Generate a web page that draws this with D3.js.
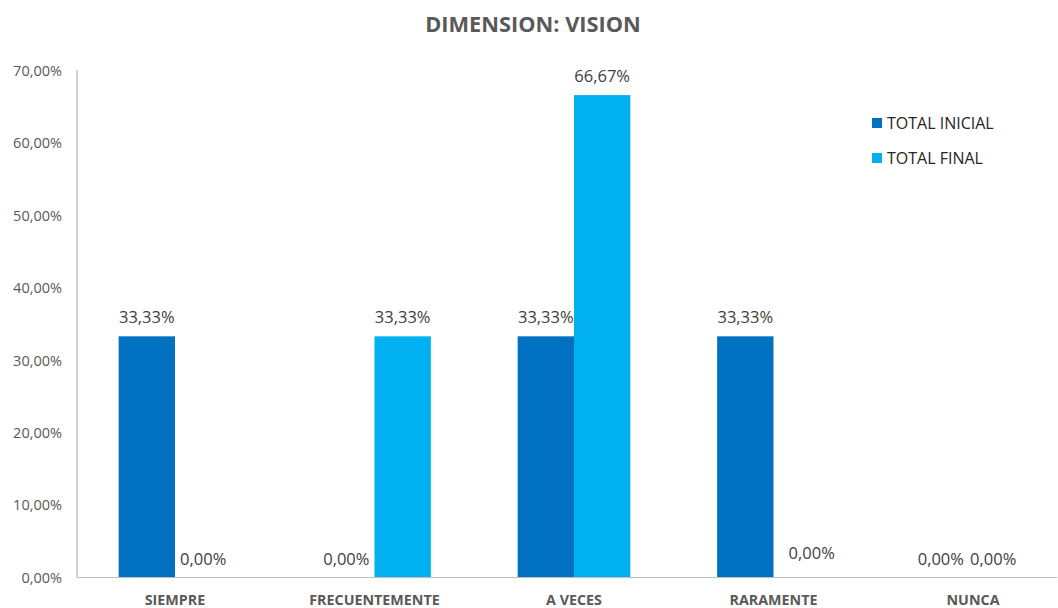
<!DOCTYPE html>
<html>
<head>
<meta charset="utf-8">
<script src="https://cdn.jsdelivr.net/npm/d3@7"></script>
<style>
  html, body { margin: 0; padding: 0; background: #fff; }
  svg { display: block; font-family: "Open Sans", "Liberation Sans", sans-serif; }
</style>
</head>
<body>
<svg id="chart" width="1058" height="608"></svg>
<script>
// Data
const categories = ["SIEMPRE", "FRECUENTEMENTE", "A VECES", "RARAMENTE", "NUNCA"];
const seriesNames = ["TOTAL INICIAL", "TOTAL FINAL"];
const totalInicial = [33.33, 0.00, 33.33, 33.33, 0.00];
const totalFinal = [0.00, 33.33, 66.67, 0.00, 0.00];
const yTicks = [0, 10, 20, 30, 40, 50, 60, 70];

const colors = ["#0070C0", "#00B0F0"];
const fmt = v => d3.format(".2f")(v).replace(".", ",") + "%";

const svg = d3.select("#chart");
const plot = { left: 77, right: 1057, top: 71, bottom: 577.5 };

const x0 = d3.scaleBand().domain(categories).range([75.25, 1072.75]).paddingInner(0).paddingOuter(0);
const x1 = d3.scaleBand().domain(seriesNames).range([0, x0.bandwidth()]).paddingInner(0).paddingOuter(0.77);
const y = d3.scaleLinear().domain([0, 70]).range([plot.bottom, plot.top]);

// Title
svg.append("text")
  .attr("x", 533).attr("y", 32)
  .attr("text-anchor", "middle")
  .attr("font-size", 21.8).attr("font-weight", 700)
  .attr("fill", "#595959")
  .text("DIMENSION: VISION");

// Y axis tick labels
const yAxis = d3.axisLeft(y).tickValues(yTicks).tickSize(0).tickPadding(15).tickFormat(fmt);
const gy = svg.append("g").attr("transform", `translate(${plot.left},0)`).call(yAxis);
gy.select(".domain").remove();
gy.selectAll("text").attr("font-size", 14.5).attr("fill", "#595959")
  .attr("font-family", "Open Sans, sans-serif");

// Bars
const rows = categories.map((c, i) => ({ cat: c, values: [totalInicial[i], totalFinal[i]] }));
const groups = svg.append("g").selectAll("g").data(rows).join("g")
  .attr("transform", d => `translate(${x0(d.cat)},0)`);

groups.selectAll("rect").data(d => d.values.map((v, j) => ({ s: seriesNames[j], v, j })))
  .join("rect")
  .attr("x", d => x1(d.s))
  .attr("y", d => y(d.v))
  .attr("width", x1.bandwidth())
  .attr("height", d => y(0) - y(d.v))
  .attr("fill", d => colors[d.j]);

// Axis lines
svg.append("line").attr("x1", plot.left).attr("x2", plot.left)
  .attr("y1", plot.top - 1).attr("y2", plot.bottom).attr("stroke", "#A6A6A6").attr("stroke-width", 1);
svg.append("line").attr("x1", plot.left).attr("x2", plot.right)
  .attr("y1", plot.bottom).attr("y2", plot.bottom).attr("stroke", "#BFBFBF").attr("stroke-width", 1);

// Value labels; a few zero labels are nudged to avoid overlapping
const nudge = { "RARAMENTE|1": [10, -6], "NUNCA|0": [-4, 0], "NUNCA|1": [-8, 0] };
groups.selectAll("text.val").data(d => d.values.map((v, j) => ({ cat: d.cat, s: seriesNames[j], v, j })))
  .join("text")
  .attr("class", "val")
  .attr("x", d => x1(d.s) + x1.bandwidth() / 2 + ((nudge[d.cat + "|" + d.j] || [0, 0])[0]))
  .attr("y", d => y(d.v) - 13 + ((nudge[d.cat + "|" + d.j] || [0, 0])[1]))
  .attr("text-anchor", "middle")
  .attr("font-size", 16.5)
  .attr("fill", "#404040")
  .text(d => fmt(d.v));

// Category labels
const xAxis = d3.axisBottom(x0).tickSize(0).tickPadding(17);
const gx = svg.append("g").attr("transform", `translate(0,${plot.bottom})`).call(xAxis);
gx.select(".domain").remove();
gx.selectAll("text").attr("font-size", 14.3).attr("font-weight", 700).attr("fill", "#595959")
  .attr("font-family", "Open Sans, sans-serif");

// Legend
const legend = svg.append("g").attr("transform", "translate(872,118)");
seriesNames.forEach((name, i) => {
  const g = legend.append("g").attr("transform", `translate(0,${i * 35})`);
  g.append("rect").attr("width", 10).attr("height", 10).attr("fill", colors[i]);
  g.append("text").attr("x", 15).attr("y", 10.5)
    .attr("font-size", 16).attr("fill", "#262626").text(name);
});
</script>
</body>
</html>
